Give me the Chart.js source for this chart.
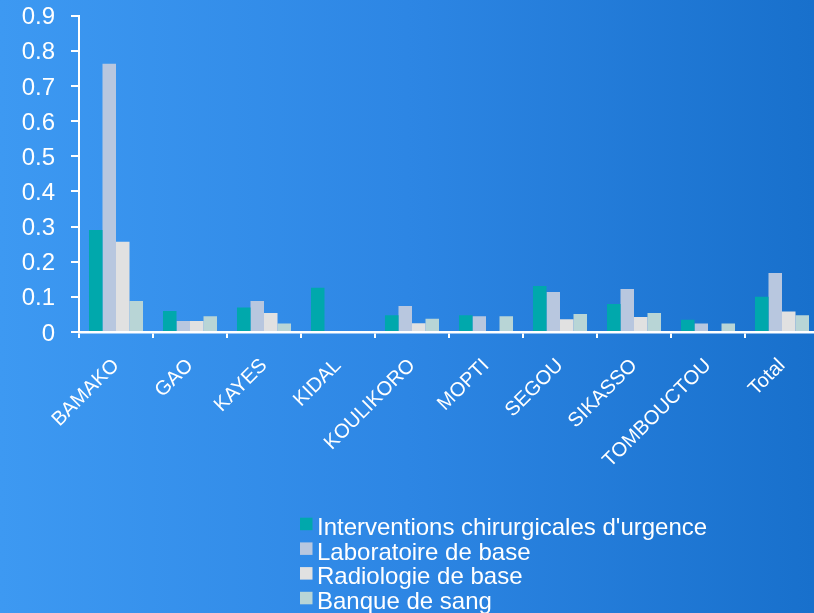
<!DOCTYPE html>
<html>
<head>
<meta charset="utf-8">
<script src="https://cdn.jsdelivr.net/npm/chart.js@4.4.1/dist/chart.umd.min.js"></script>
<style>
  html, body { margin: 0; padding: 0; overflow: hidden; width: 814px; height: 613px; }
  body { background: linear-gradient(to right, #3d99f2 0%, #2d86e4 50%, #1870cc 100%); }
  #wrap { position: absolute; left: 0; top: 0; width: 822px; height: 613px; }
</style>
</head>
<body>
<div id="wrap"><canvas id="c"></canvas></div>
<script>
// Regions of Mali plus the overall total
const categories = ['BAMAKO', 'GAO', 'KAYES', 'KIDAL', 'KOULIKORO', 'MOPTI', 'SEGOU', 'SIKASSO', 'TOMBOUCTOU', 'Total'];

const seriesNames = [
  "Interventions chirurgicales d'urgence",
  'Laboratoire de base',
  'Radiologie de base',
  'Banque de sang'
];

const interventions = [0.29, 0.06, 0.07, 0.126, 0.048, 0.048, 0.131, 0.08, 0.035, 0.10];
const laboratoire   = [0.763, 0.031, 0.088, 0, 0.074, 0.045, 0.114, 0.122, 0.024, 0.168];
const radiologie    = [0.257, 0.031, 0.054, 0, 0.025, 0, 0.036, 0.043, 0, 0.058];
const banqueSang    = [0.088, 0.045, 0.024, 0, 0.038, 0.045, 0.051, 0.054, 0.024, 0.048];

const yTickLabels = ['0', '0.1', '0.2', '0.3', '0.4', '0.5', '0.6', '0.7', '0.8', '0.9'];

const seriesColors = ['#00a8ac', '#b8c7df', '#e1e1e1', '#b8d5d6'];

const seriesValues = [interventions, laboratoire, radiologie, banqueSang];

// Vertical legend drawn under the plot
const stackedLegend = {
  id: 'stackedLegend',
  afterDraw(chart) {
    const ctx = chart.ctx;
    ctx.save();
    ctx.font = '24px "Liberation Sans", Arial, sans-serif';
    ctx.textBaseline = 'alphabetic';
    ctx.textAlign = 'left';
    chart.data.datasets.forEach((ds, i) => {
      const top = 517.7 + i * 24.7;
      ctx.fillStyle = ds.backgroundColor;
      ctx.fillRect(300, top, 12.5, 12.5);
      ctx.fillStyle = '#ffffff';
      ctx.fillText(ds.label, 317, top + 17.3);
    });
    ctx.restore();
  }
};

new Chart(document.getElementById('c'), {
  type: 'bar',
  data: {
    labels: categories,
    datasets: seriesNames.map((name, i) => ({
      label: name,
      data: seriesValues[i],
      backgroundColor: seriesColors[i],
      borderWidth: 0,
      categoryPercentage: 0.73,
      barPercentage: 1.0
    }))
  },
  options: {
    responsive: true,
    maintainAspectRatio: false,
    animation: false,
    layout: { padding: { top: 15.7, right: 3, left: 0, bottom: 0 } },
    plugins: {
      legend: { display: false },
      tooltip: { enabled: false }
    },
    scales: {
      x: {
        grid: {
          offset: true,
          drawOnChartArea: false,
          drawTicks: true,
          tickLength: 6,
          color: '#ffffff',
          lineWidth: 2
        },
        border: { color: '#ffffff', width: 2.5 },
        ticks: {
          color: '#ffffff',
          font: { family: '"Liberation Sans", Arial, sans-serif', size: 20 },
          maxRotation: 45,
          minRotation: 45,
          autoSkip: false,
          padding: 16
        },
        afterFit(scale) { scale.height = 281; }
      },
      y: {
        min: 0,
        max: 0.9,
        grid: {
          drawOnChartArea: false,
          drawTicks: true,
          tickLength: 8,
          color: '#ffffff',
          lineWidth: 2
        },
        border: { color: '#ffffff', width: 2 },
        ticks: {
          stepSize: 0.1,
          color: '#ffffff',
          font: { family: '"Liberation Sans", Arial, sans-serif', size: 24 },
          padding: 16,
          labelOffset: 2,
          callback: (v, i) => yTickLabels[i]
        },
        afterFit(scale) {
          scale.width = 79;
          scale.paddingTop = 0;
          scale.paddingBottom = 0;
        }
      }
    }
  },
  plugins: [stackedLegend]
});
</script>
</body>
</html>
